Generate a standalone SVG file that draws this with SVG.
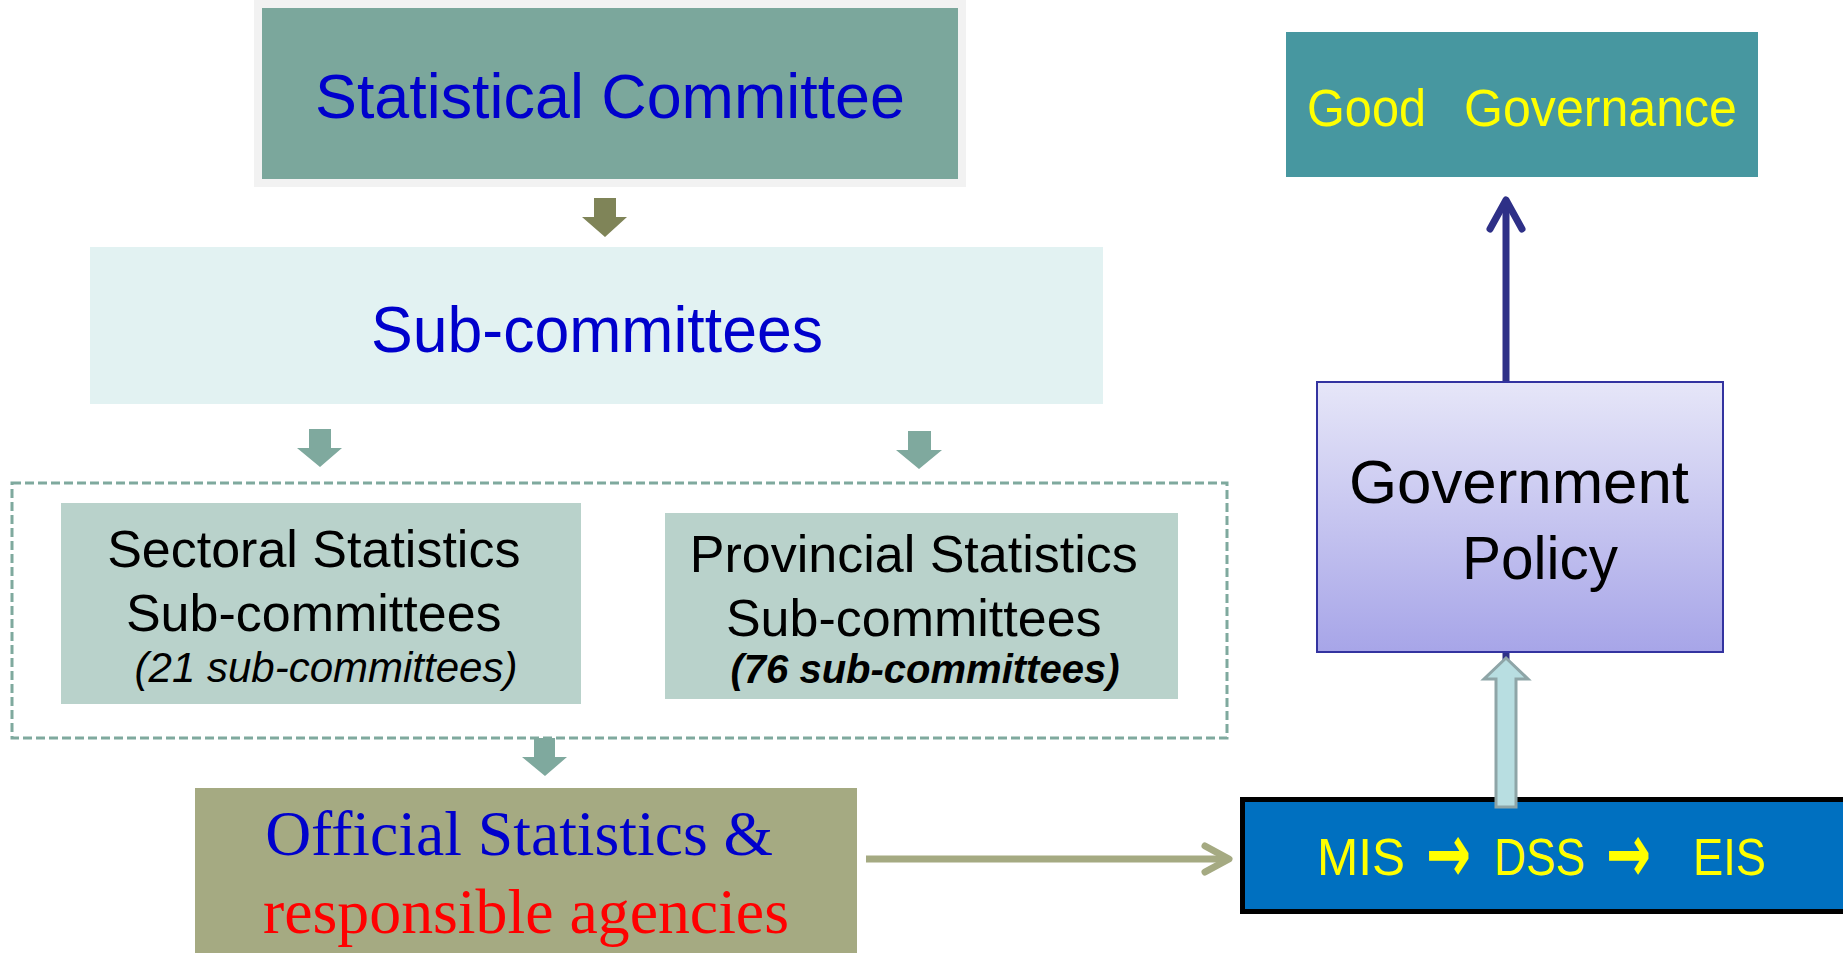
<svg xmlns="http://www.w3.org/2000/svg" width="1843" height="953" viewBox="0 0 1843 953">
<defs>
<linearGradient id="gp" x1="0" y1="0" x2="0" y2="1">
<stop offset="0" stop-color="#E6E6F8"/>
<stop offset="1" stop-color="#A7A5E8"/>
</linearGradient>
</defs>
<style>
.sans{font-family:"Liberation Sans",Arial,sans-serif}
.serif{font-family:"Liberation Serif","Times New Roman",serif}
.blk{fill:#7FA99E}
.arw{font-family:"DejaVu Sans",sans-serif;font-weight:bold}
</style>
<rect width="1843" height="953" fill="#FFFFFF"/>
<g id="connectors">
<polygon points="594,198 616,198 616,217 627,217 605,237 582,217 594,217" fill="#7F8458"/>
<polygon class="blk" points="309,429 331,429 331,448 342,448 320,467 297,448 309,448"/>
<polygon class="blk" points="908,431 931,431 931,450 942,450 919,469 896,450 908,450"/>
<polygon class="blk" points="534,738 555,738 555,757 567,757 545,776 522,757 534,757"/>
<line x1="866" y1="859" x2="1226" y2="859" stroke="#A5AA82" stroke-width="7"/>
<polyline points="1205,846 1229,859 1205,872" fill="none" stroke="#A5AA82" stroke-width="7" stroke-linecap="round" stroke-linejoin="round"/>
<line x1="1506" y1="660" x2="1506" y2="202" stroke="#2E3087" stroke-width="7"/>
<polyline points="1490,229 1506,200 1522,229" fill="none" stroke="#2E3087" stroke-width="7" stroke-linecap="round" stroke-linejoin="round"/>
</g>
<g id="statistical-committee">
<rect x="254" y="0" width="712" height="187" fill="#F2F2F2"/>
<rect x="262" y="8" width="696" height="171" fill="#7BA79C"/>
<text class="sans" x="610" y="118" font-size="63" fill="#0000CC" text-anchor="middle" textLength="590" lengthAdjust="spacingAndGlyphs">Statistical Committee</text>
</g>
<g id="sub-committees">
<rect x="90" y="247" width="1013" height="157" fill="#E2F2F2"/>
<text class="sans" x="597" y="352" font-size="64" fill="#0000CC" text-anchor="middle" textLength="452" lengthAdjust="spacingAndGlyphs">Sub-committees</text>
</g>
<g id="group-box">
<rect x="12" y="483" width="1215" height="255" fill="none" stroke="#7FA99E" stroke-width="3" stroke-dasharray="9 4"/>
</g>
<g id="sectoral">
<rect x="61" y="503" width="520" height="201" fill="#B9D2CB"/>
<text class="sans" font-size="52" fill="#000000" text-anchor="middle">
<tspan x="321" y="567">Sectoral Statistics</tspan>
<tspan x="321" y="631">Sub-committees</tspan>
<tspan x="326" y="682" font-size="42" font-style="italic">(21 sub-committees)</tspan>
</text>
</g>
<g id="provincial">
<rect x="665" y="513" width="513" height="186" fill="#B9D2CB"/>
<text class="sans" font-size="52" fill="#000000" text-anchor="middle">
<tspan x="921" y="572">Provincial Statistics</tspan>
<tspan x="921" y="636">Sub-committees</tspan>
<tspan x="925" y="683" font-size="40" font-style="italic" font-weight="bold">(76 sub-committees)</tspan>
</text>
</g>
<g id="official-statistics">
<rect x="195" y="788" width="662" height="165" fill="#A5AA82"/>
<text class="serif" font-size="63" text-anchor="middle">
<tspan x="527" y="855" fill="#0000CC" textLength="508" lengthAdjust="spacingAndGlyphs">Official Statistics &amp;</tspan>
<tspan x="526" y="933" fill="#FF0000" textLength="526" lengthAdjust="spacingAndGlyphs">responsible agencies</tspan>
</text>
</g>
<g id="mis">
<rect x="1242.5" y="799.5" width="605" height="112" fill="#0070C0" stroke="#000000" stroke-width="5"/>
<text class="sans" font-size="52" fill="#FFFF00">
<tspan x="1317" y="875" textLength="88" lengthAdjust="spacingAndGlyphs">MIS</tspan>
<tspan class="arw" x="1426" y="882" font-size="84" textLength="45" lengthAdjust="spacingAndGlyphs">→</tspan>
<tspan x="1494" y="875" textLength="91" lengthAdjust="spacingAndGlyphs">DSS</tspan>
<tspan class="arw" x="1606" y="882" font-size="84" textLength="45" lengthAdjust="spacingAndGlyphs">→</tspan>
<tspan x="1693" y="875" textLength="73" lengthAdjust="spacingAndGlyphs">EIS</tspan>
</text>
</g>
<g id="government-policy">
<rect x="1317" y="382" width="406" height="270" fill="url(#gp)" stroke="#3333A0" stroke-width="2"/>
<text class="sans" font-size="62" fill="#000000">
<tspan x="1349" y="503" textLength="340" lengthAdjust="spacingAndGlyphs">Government</tspan>
<tspan x="1462" y="579" textLength="156" lengthAdjust="spacingAndGlyphs">Policy</tspan>
</text>
</g>
<g id="info-arrow">
<polygon points="1496,807 1516,807 1516,679 1528,679 1506,658 1484,679 1496,679" fill="#B8DEE1" stroke="#8EA5A7" stroke-width="3"/>
</g>
<g id="good-governance">
<rect x="1286" y="32" width="472" height="145" fill="#4797A0"/>
<text class="sans" font-size="51" fill="#FFFF00">
<tspan x="1307" y="126" textLength="119" lengthAdjust="spacingAndGlyphs">Good</tspan>
<tspan x="1464" y="126" textLength="273" lengthAdjust="spacingAndGlyphs">Governance</tspan>
</text>
</g>
</svg>
